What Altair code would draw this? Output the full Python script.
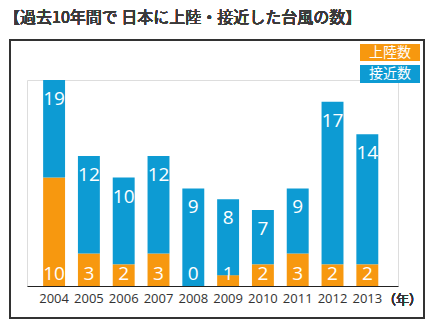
import altair as alt
import pandas as pd

years = ["2004", "2005", "2006", "2007", "2008", "2009", "2010", "2011", "2012", "2013"]
landed = [10, 3, 2, 3, 0, 1, 2, 3, 2, 2]
approached = [19, 12, 10, 12, 9, 8, 7, 9, 17, 14]
series_names = ["上陸数", "接近数"]
colors = ["#F7980F", "#0D9BD3"]

rows = []
for y, l, a in zip(years, landed, approached):
    rows.append({"year": y, "series": series_names[0], "seg": l, "ord": 0, "landed": l, "approached": a})
    rows.append({"year": y, "series": series_names[1], "seg": a - l, "ord": 1, "landed": l, "approached": a})
df = pd.DataFrame(rows)
lab = pd.DataFrame({"year": years, "landed": landed, "approached": approached})

W, H = 371, 206
FONT = "Open Sans"
JP = "Noto Sans CJK JP"

xenc = alt.X("year:N", sort=years,
             scale=alt.Scale(paddingInner=0.37, paddingOuter=0.515, align=0.45),
             axis=alt.Axis(title=None, labelAngle=0, ticks=False, domainColor="#222",
                           domainWidth=1, labelFontSize=13, labelColor="#333",
                           labelFont=FONT, labelPadding=6))

bars = alt.Chart(df).mark_bar().encode(
    x=xenc,
    y=alt.Y("seg:Q", stack="zero", scale=alt.Scale(domain=[0, 19], nice=False),
            axis=None),
    color=alt.Color("series:N", scale=alt.Scale(domain=series_names, range=colors), legend=None),
    order=alt.Order("ord:Q"),
)

top_lab = alt.Chart(lab).mark_text(color="white", fontSize=19, font=FONT, baseline="middle", dy=19).encode(
    x=alt.X("year:N", sort=years),
    y=alt.Y("approached:Q"),
    text=alt.Text("approached:Q"),
)

bot_lab = alt.Chart(lab).mark_text(color="white", fontSize=19, font=FONT, baseline="middle").encode(
    x=alt.X("year:N", sort=years),
    y=alt.value(H - 12),
    text=alt.Text("landed:Q"),
)

frame = alt.Chart(lab).mark_rect(fill=None, stroke="#333", strokeWidth=1.5).encode(
    x=alt.value(-17), x2=alt.value(397), y=alt.value(-40), y2=alt.value(238)
)

title = alt.Chart(lab).mark_text(text="【過去10年間で 日本に上陸・接近した台風の数】", align="left",
                                 baseline="middle", fontSize=16, font=JP, fontWeight=400,
                                 color="#3a3a3a").encode(
    x=alt.value(-23), y=alt.value(-62)
)

leg_df = pd.DataFrame({"name": series_names, "i": [0, 1]})
leg0 = alt.Chart(leg_df[leg_df.i == 0]).mark_rect(color=colors[0]).encode(
    x=alt.value(333), x2=alt.value(393), y=alt.value(-36), y2=alt.value(-19))
leg1 = alt.Chart(leg_df[leg_df.i == 1]).mark_rect(color=colors[1]).encode(
    x=alt.value(333), x2=alt.value(393), y=alt.value(-15), y2=alt.value(3))
legt0 = alt.Chart(leg_df[leg_df.i == 0]).mark_text(color="white", fontSize=14, font=JP, fontWeight=400,
                                                   baseline="middle").encode(
    x=alt.value(363), y=alt.value(-27.5), text="name:N")
legt1 = alt.Chart(leg_df[leg_df.i == 1]).mark_text(color="white", fontSize=14, font=JP, fontWeight=400,
                                                   baseline="middle").encode(
    x=alt.value(363), y=alt.value(-6), text="name:N")

unit = alt.Chart(lab).mark_text(text="（年）", fontSize=13, font=JP, fontWeight=400, color="#333",
                                baseline="middle", align="left").encode(
    x=alt.value(356), y=alt.value(H + 14))

chart = alt.layer(frame, bars, top_lab, bot_lab, title, leg0, leg1, legt0, legt1, unit).properties(
    width=W, height=H,
    autosize=alt.AutoSizeParams(type="none"),
    padding={"left": 27, "top": 80, "right": 36, "bottom": 39},
).configure_view(stroke=None).configure(background="white")

chart.save("out.html", embed_options={"renderer": "svg", "actions": False})
